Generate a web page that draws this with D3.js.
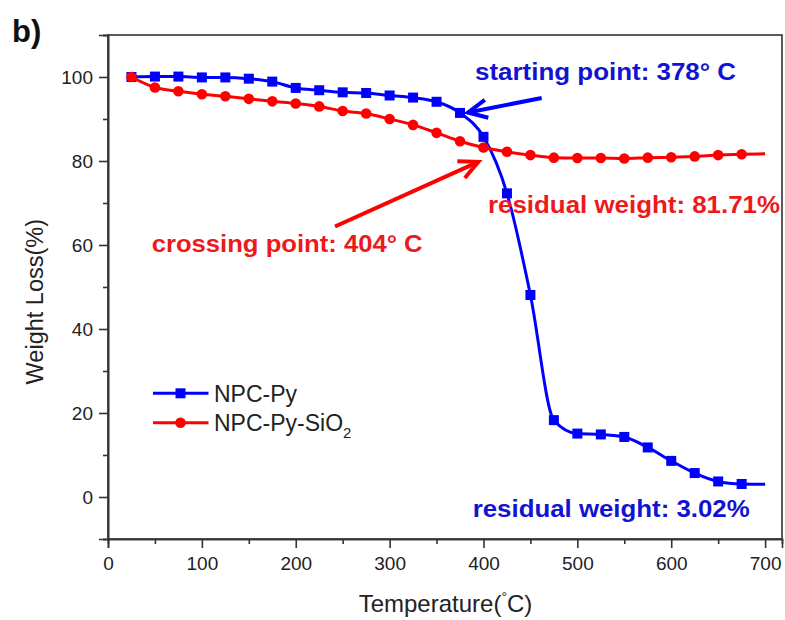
<!DOCTYPE html>
<html>
<head>
<meta charset="utf-8">
<script src="https://cdn.jsdelivr.net/npm/d3@7"></script>
<style>
  html, body { margin: 0; padding: 0; background: #fff; }
  svg { display: block; font-family: "Liberation Sans", Arial, sans-serif; }
</style>
</head>
<body>
<svg id="chart" width="785" height="620"></svg>
<script>
// Temperatures (°C) at which samples were recorded; the last point ends the line without a marker
const temperatures = [25, 50, 75, 100, 125, 150, 175, 200, 225, 250, 275, 300, 325, 350,
  375, 400, 425, 450, 475, 500, 525, 550, 575, 600, 625, 650, 675, 700];

// Weight (%) of NPC-Py
const npcPy = [100.0, 100.1, 100.1, 99.9, 99.9, 99.6, 98.9, 97.4, 96.85, 96.35, 96.2, 95.6, 95.1, 94.1,
  91.45, 85.75, 72.3, 48.1, 18.3, 15.1, 14.9, 14.3, 11.8, 8.6, 5.7, 3.7, 3.1, 3.02];

// Weight (%) of NPC-Py-SiO2
const npcPySiO2 = [100.0, 97.5, 96.6, 95.9, 95.4, 94.8, 94.2, 93.7, 93.0, 91.9, 91.3, 90.0, 88.6, 86.7,
  84.7, 83.2, 82.2, 81.4, 80.8, 80.7, 80.7, 80.6, 80.8, 80.9, 81.1, 81.4, 81.6, 81.71];

const xTicks = [0, 100, 200, 300, 400, 500, 600, 700];
const xMinorTicks = [50, 150, 250, 350, 450, 550, 650];
const yTicks = [0, 20, 40, 60, 80, 100];
const yMinorTicks = [-10, 10, 30, 50, 70, 90, 110];

const seriesNames = ["NPC-Py", "NPC-Py-SiO"];

// Annotation texts and their anchors in data units [temperature, weight]
const annotationTexts = ["starting point: 378° C", "residual weight: 81.71%",
  "crossing point: 404° C", "residual weight: 3.02%"];
const annotationAnchors = [[391, 99.3], [404.8, 67.6], [46.5, 58.3], [388.5, -4.7]];
const annotationWidths = [261, 292, 271, 277];

// Arrows as [tail, tip] in data units
const arrowBlue = [[462, 95.0], [383.5, 91.55]];
const arrowRed = [[241.8, 64.4], [394.5, 79.8]];

const BLUE = "#0000ff", RED = "#ff0000";
const BLUE_TEXT = "#1212d2", RED_TEXT = "#ec1a1a";
const AXIS = "#333";

const svg = d3.select("#chart");
const plotLeft = 108, plotRight = 782, plotTop = 35, plotBottom = 539;

const x = d3.scaleLinear().domain([0, 718]).range([plotLeft, plotRight]);
const y = d3.scaleLinear().domain([-10, 110]).range([plotBottom, plotTop]);

svg.append("rect").attr("width", 785).attr("height", 620).attr("fill", "#fff");

// Frame
svg.append("rect")
  .attr("x", plotLeft).attr("y", plotTop)
  .attr("width", plotRight - plotLeft).attr("height", plotBottom - plotTop)
  .attr("fill", "none").attr("stroke", AXIS).attr("stroke-width", 1.6);

// Axes
const xAxis = d3.axisBottom(x).tickValues(xTicks).tickSize(9).tickPadding(9).tickFormat(d3.format("d"));
const xMinor = d3.axisBottom(x).tickValues(xMinorTicks).tickSize(5).tickFormat("");
const yAxis = d3.axisLeft(y).tickValues(yTicks).tickSize(9).tickPadding(6).tickFormat(d3.format("d"));
const yMinor = d3.axisLeft(y).tickValues(yMinorTicks).tickSize(5).tickFormat("");

function styleAxis(g) {
  g.select(".domain").attr("stroke", AXIS).attr("stroke-width", 1.6);
  g.selectAll(".tick line").attr("stroke", AXIS).attr("stroke-width", 1.6);
  g.selectAll(".tick text").attr("fill", "#222").style("font-size", "19px")
    .style("font-family", "'Liberation Sans', Arial, sans-serif");
}
svg.append("g").attr("transform", `translate(0,${plotBottom})`).call(xAxis).call(styleAxis);
svg.append("g").attr("transform", `translate(0,${plotBottom})`).call(xMinor).call(styleAxis);
svg.append("g").attr("transform", `translate(${plotLeft},0)`).call(yAxis).call(styleAxis);
svg.append("g").attr("transform", `translate(${plotLeft},0)`).call(yMinor).call(styleAxis);

// Axis titles
const xTitle = svg.append("text")
  .attr("x", 445.5).attr("y", 612)
  .attr("text-anchor", "middle")
  .attr("fill", "#222").style("font-size", "24px");
xTitle.append("tspan").text("Temperature(");
xTitle.append("tspan").attr("dy", -10).style("font-size", "14px").text("°");
xTitle.append("tspan").attr("dy", 10).text("C)");

svg.append("text")
  .attr("transform", "translate(43,301.7) rotate(-90)")
  .attr("text-anchor", "middle")
  .attr("fill", "#222").style("font-size", "23.5px")
  .text("Weight Loss(%)");

// Panel label
svg.append("text").attr("x", 12).attr("y", 42)
  .attr("fill", "#111").style("font-size", "31px").style("font-weight", "bold")
  .text("b)");

// Series
const line = d3.line()
  .x((d, i) => x(temperatures[i]))
  .y(d => y(d))
  .curve(d3.curveMonotoneX);

function drawSeries(values, color, marker) {
  svg.append("path").datum(values)
    .attr("d", line)
    .attr("fill", "none").attr("stroke", color).attr("stroke-width", 3)
    .attr("stroke-linejoin", "round");
  const pts = values.slice(0, values.length - 1).map((v, i) => ({ t: temperatures[i], v }));
  if (marker === "square") {
    svg.append("g").selectAll("rect").data(pts).join("rect")
      .attr("x", d => x(d.t) - 5).attr("y", d => y(d.v) - 5)
      .attr("width", 10).attr("height", 10)
      .attr("fill", color);
  } else {
    svg.append("g").selectAll("circle").data(pts).join("circle")
      .attr("cx", d => x(d.t)).attr("cy", d => y(d.v)).attr("r", 5.3)
      .attr("fill", color);
  }
}
drawSeries(npcPy, BLUE, "square");
drawSeries(npcPySiO2, RED, "circle");

// Arrows with open heads
function drawArrow(a, color) {
  const [t0, v0] = a[0], [t1, v1] = a[1];
  const x0 = x(t0), y0 = y(v0), x1 = x(t1), y1 = y(v1);
  const ang = Math.atan2(y1 - y0, x1 - x0);
  const hl = 21, spread = 0.45;
  const g = svg.append("g").attr("stroke", color).attr("stroke-width", 4)
    .attr("stroke-linecap", "butt").attr("fill", "none");
  g.append("line").attr("x1", x0).attr("y1", y0).attr("x2", x1).attr("y2", y1);
  g.append("path")
    .attr("stroke-linejoin", "miter")
    .attr("d", `M${x1 - hl * Math.cos(ang - spread)},${y1 - hl * Math.sin(ang - spread)}`
      + `L${x1},${y1}`
      + `L${x1 - hl * Math.cos(ang + spread)},${y1 - hl * Math.sin(ang + spread)}`);
}
drawArrow(arrowBlue, BLUE);
drawArrow(arrowRed, RED);

// Annotation texts
const annColors = [BLUE_TEXT, RED_TEXT, RED_TEXT, BLUE_TEXT];
annotationTexts.forEach((txt, i) => {
  svg.append("text")
    .attr("x", x(annotationAnchors[i][0])).attr("y", y(annotationAnchors[i][1]))
    .attr("fill", annColors[i])
    .attr("textLength", annotationWidths[i]).attr("lengthAdjust", "spacingAndGlyphs")
    .style("font-size", "23px").style("font-weight", "bold")
    .text(txt);
});

// Legend
const legend = svg.append("g");
const legendRows = [
  { name: seriesNames[0], color: BLUE, marker: "square", y: 393.3, sub: null },
  { name: seriesNames[1], color: RED, marker: "circle", y: 422.7, sub: "2" }
];
legendRows.forEach(r => {
  legend.append("line").attr("x1", 153).attr("x2", 208.5)
    .attr("y1", r.y).attr("y2", r.y)
    .attr("stroke", r.color).attr("stroke-width", 3);
  if (r.marker === "square") {
    legend.append("rect").attr("x", 175.5).attr("y", r.y - 5).attr("width", 10).attr("height", 10).attr("fill", r.color);
  } else {
    legend.append("circle").attr("cx", 180.5).attr("cy", r.y).attr("r", 5.3).attr("fill", r.color);
  }
  const t = legend.append("text").attr("x", 214).attr("y", r.y + 8.3)
    .attr("fill", "#222").style("font-size", "23px").text(r.name);
  if (r.sub) {
    t.append("tspan").attr("dy", 7).style("font-size", "15px").text(r.sub);
  }
});
</script>
</body>
</html>
